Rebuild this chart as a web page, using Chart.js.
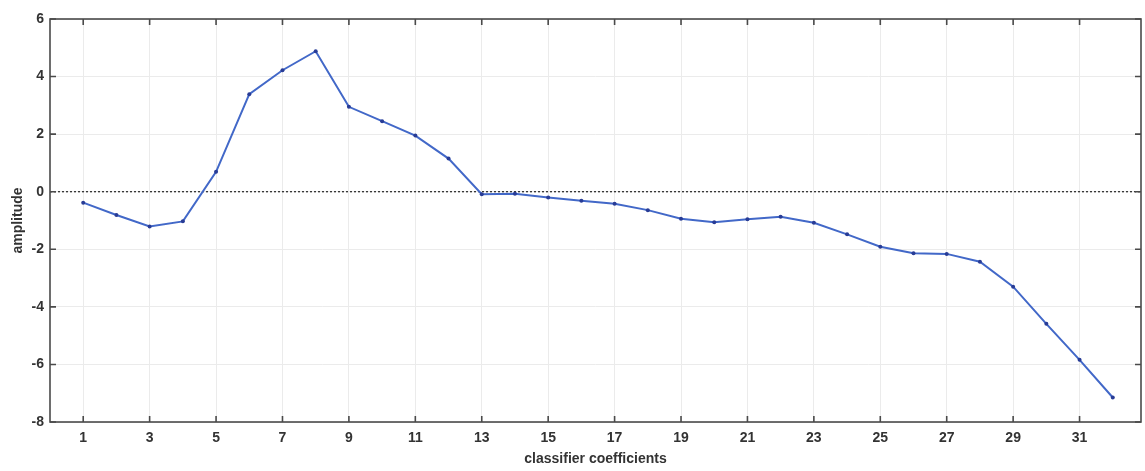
<!DOCTYPE html>
<html><head><meta charset="utf-8">
<script src="https://cdn.jsdelivr.net/npm/chart.js@4"></script>
<style>html,body{margin:0;padding:0;background:#fff}#wrap{width:1145px;height:471px}</style>
</head><body><div id="wrap"><canvas id="c" width="1145" height="471"></canvas></div>
<script>
const coefficients = [1,2,3,4,5,6,7,8,9,10,11,12,13,14,15,16,17,18,19,20,21,22,23,24,25,26,27,28,29,30,31,32];
const amplitude = [-0.38,-0.81,-1.21,-1.03,0.69,3.39,4.22,4.88,2.95,2.45,1.95,1.15,-0.09,-0.07,-0.2,-0.31,-0.42,-0.64,-0.94,-1.06,-0.96,-0.87,-1.08,-1.48,-1.91,-2.14,-2.16,-2.43,-3.3,-4.59,-5.84,-7.15];
const xTickValues = [1,3,5,7,9,11,13,15,17,19,21,23,25,27,29,31];
const yTickValues = [-8,-6,-4,-2,0,2,4,6];

const points = coefficients.map((x,i)=>({x:x,y:amplitude[i]}));
const FONT = {family:'"Liberation Sans", Arial, sans-serif', size:14, weight:'bold'};

const boxPlugin = {
  id:'box',
  beforeDatasetsDraw(chart){
    const {ctx, chartArea:a, scales:{x,y}} = chart;
    ctx.save();
    const y0 = y.getPixelForValue(0);
    ctx.strokeStyle='#222'; ctx.lineWidth=1.2; ctx.setLineDash([2,2]);
    ctx.beginPath(); ctx.moveTo(a.left,y0); ctx.lineTo(a.right,y0); ctx.stroke();
    ctx.restore();
  },
  afterDatasetsDraw(chart){
    const {ctx, chartArea:a, scales:{x,y}} = chart;
    ctx.save();
    ctx.strokeStyle='#4a4a4a'; ctx.lineWidth=1.6;
    ctx.strokeRect(a.left,a.top,a.right-a.left,a.bottom-a.top);
    const L=6;
    ctx.beginPath();
    xTickValues.forEach(v=>{const px=x.getPixelForValue(v);
      ctx.moveTo(px,a.bottom); ctx.lineTo(px,a.bottom-L);
      ctx.moveTo(px,a.top); ctx.lineTo(px,a.top+L);});
    yTickValues.forEach(v=>{const py=y.getPixelForValue(v);
      ctx.moveTo(a.left,py); ctx.lineTo(a.left+L,py);
      ctx.moveTo(a.right,py); ctx.lineTo(a.right-L,py);});
    ctx.stroke();
    ctx.restore();
  }
};

new Chart(document.getElementById('c'),{
  type:'line',
  data:{datasets:[{data:points,borderColor:'rgb(66,104,200)',borderWidth:2,
    pointRadius:2,pointBackgroundColor:'rgb(40,60,150)',pointBorderColor:'rgb(40,60,150)',pointBorderWidth:0,tension:0}]},
  options:{
    responsive:false,animation:false,
    layout:{padding:{top:19,right:2,left:0,bottom:0}},
    plugins:{legend:{display:false},tooltip:{enabled:false}},
    scales:{
      x:{type:'linear',min:0,max:32.85,
        afterBuildTicks(s){s.ticks=xTickValues.map(v=>({value:v}));},
        afterFit(s){s.height=49;},
        grid:{color:'#ebebeb',lineWidth:1,drawTicks:false},
        border:{display:false},
        ticks:{font:FONT,color:'#333',padding:8,autoSkip:false,maxRotation:0,callback:v=>String(v)},
        title:{display:true,text:'classifier coefficients',font:FONT,color:'#333',padding:{top:0,bottom:3}}
      },
      y:{type:'linear',min:-8,max:6,
        afterBuildTicks(s){s.ticks=yTickValues.map(v=>({value:v}));},
        afterFit(s){s.width=50;},
        grid:{color:'#ebebeb',lineWidth:1,drawTicks:false},
        border:{display:false},
        ticks:{font:FONT,color:'#333',padding:6,callback:v=>String(v)},
        title:{display:true,text:'amplitude',font:FONT,color:'#333',padding:{top:10,bottom:2}}
      }
    }
  },
  plugins:[boxPlugin]
});
</script></body></html>
